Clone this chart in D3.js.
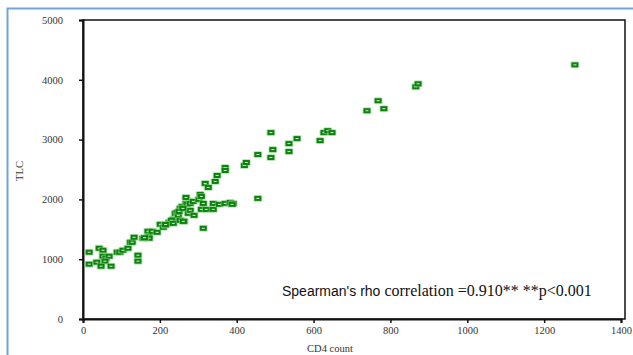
<!DOCTYPE html>
<html>
<head>
<meta charset="utf-8">
<script src="https://cdn.jsdelivr.net/npm/d3@7/dist/d3.min.js"></script>
<style>
  html, body { margin: 0; padding: 0; background: #fff; }
  svg { display: block; }
</style>
</head>
<body>
<div id="chart"></div>
<script>
// ── Data (CD4 count vs TLC) ───────────────────────────────────────────
const cd4 = [
  16, 16, 42, 52, 52, 60, 68, 57, 36, 47, 73, 89, 96, 104, 117, 123, 128, 133,
  143, 143, 156, 169, 172, 172, 180, 193, 201, 209, 214, 224, 235, 240, 245, 248,
  253, 258, 263, 268, 268, 271, 274, 279, 279, 287, 289, 302, 305, 308, 313, 313,
  308, 321, 339, 339, 355, 370, 383, 391, 388, 455, 224, 230, 250, 260, 215, 235,
  253, 261, 160,
  318, 326, 344, 349, 370, 370, 420, 425, 455, 489, 489, 494, 536, 536, 557, 617,
  627, 637, 648, 739, 768, 783, 866, 872, 1280
];
const tlc = [
  1117, 917, 1183, 1150, 1050, 1017, 1050, 967, 950, 883, 883, 1117, 1117, 1150, 1183, 1283, 1283, 1367,
  1067, 967, 1350, 1467, 1383, 1350, 1467, 1450, 1583, 1533, 1567, 1617, 1667, 1767, 1783, 1733,
  1850, 1883, 1633, 2033, 1933, 1917, 1767, 1817, 1933, 1967, 1733, 2000, 2083, 2050, 1517, 1933,
  1833, 1833, 1833, 1933, 1917, 1933, 1950, 1933, 1917, 2017, 1600, 1650, 1800, 1850, 1580, 1600,
  1650, 1633, 1360,
  2267, 2200, 2300, 2400, 2533, 2483, 2567, 2617, 2750, 3117, 2700, 2833, 2933, 2800, 3017, 2983,
  3117, 3150, 3117, 3483, 3650, 3517, 3883, 3933, 4250
];

const xTicks = [0, 200, 400, 600, 800, 1000, 1200, 1400];
const yTicks = [0, 1000, 2000, 3000, 4000, 5000];

const xTitle = 'CD4 count';
const yTitle = 'TLC';
const noteSans = "Spearman's rho";
const noteSerif = ' correlation =0.910** **p<0.001';

// ── Layout ────────────────────────────────────────────────────────────
const W = 633, H = 355;
const PLOT = { left: 83, right: 621, top: 20, bottom: 319 };

const svg = d3.select('#chart').append('svg')
  .attr('width', W).attr('height', H);

// Outer blue frame (only top + left visible in the crop)
svg.append('path')
  .attr('d', `M7.5,${H} L7.5,8.5 L${W},8.5`)
  .attr('fill', 'none')
  .attr('stroke', '#6fa5da')
  .attr('stroke-width', 2);

const x = d3.scaleLinear().domain([0, 1400]).range([PLOT.left, PLOT.right]);
const y = d3.scaleLinear().domain([0, 5000]).range([PLOT.bottom, PLOT.top]);

// Plot box
svg.append('rect')
  .attr('x', PLOT.left).attr('y', PLOT.top)
  .attr('width', PLOT.right - PLOT.left + 4)
  .attr('height', PLOT.bottom - PLOT.top)
  .attr('fill', 'none')
  .attr('stroke', '#111')
  .attr('stroke-width', 1.5);

// Axes
const xAxis = svg.append('g')
  .attr('transform', `translate(0,${PLOT.bottom})`)
  .call(d3.axisBottom(x).tickValues(xTicks).tickSize(4).tickPadding(4).tickFormat(d3.format('d')));

const yAxis = svg.append('g')
  .attr('transform', `translate(${PLOT.left},0)`)
  .call(d3.axisLeft(y).tickValues(yTicks).tickSize(4).tickPadding(16).tickFormat(d3.format('d')));

[xAxis, yAxis].forEach(a => {
  a.select('.domain').attr('stroke', '#111').attr('stroke-width', 2);
  a.selectAll('.tick line').attr('stroke', '#111').attr('stroke-width', 1.5);
  a.selectAll('text')
    .attr('font-family', '"Liberation Serif", "Times New Roman", serif')
    .attr('font-size', '10.5px')
    .attr('fill', '#333');
});

// Axis titles
svg.append('text')
  .attr('x', (PLOT.left + PLOT.right) / 2 - 22)
  .attr('y', 352)
  .attr('text-anchor', 'middle')
  .attr('font-family', '"Liberation Serif", "Times New Roman", serif')
  .attr('font-size', '10.5px')
  .attr('fill', '#333')
  .text(xTitle);

svg.append('text')
  .attr('transform', `translate(23,171) rotate(-90)`)
  .attr('text-anchor', 'middle')
  .attr('font-family', '"Liberation Serif", "Times New Roman", serif')
  .attr('font-size', '10.5px')
  .attr('fill', '#333')
  .text(yTitle);

// Markers
const pts = cd4.map((v, i) => ({ cd4: v, tlc: tlc[i] }));
const mk = svg.append('g').selectAll('g')
  .data(pts)
  .join('g')
  .attr('transform', d => `translate(${x(d.cd4)},${y(d.tlc)})`);

mk.append('rect')
  .attr('x', -4.5).attr('y', -3.5).attr('width', 9).attr('height', 7)
  .attr('rx', 1.5)
  .attr('fill', '#8fce8f').attr('opacity', 0.55);
mk.append('rect')
  .attr('x', -3.5).attr('y', -2.5).attr('width', 7).attr('height', 5)
  .attr('fill', '#0b830b');
mk.append('rect')
  .attr('x', -1.5).attr('y', -0.5).attr('width', 3).attr('height', 1)
  .attr('fill', '#d6eed6');

// Annotation
const note = svg.append('text')
  .attr('x', 282).attr('y', 296)
  .attr('fill', '#111')
  .attr('font-size', '14px');
note.append('tspan')
  .attr('font-family', '"Liberation Sans", Arial, sans-serif')
  .text(noteSans);
note.append('tspan')
  .attr('font-family', '"Liberation Serif", "Times New Roman", serif')
  .attr('font-size', '16px')
  .text(noteSerif);
</script>
</body>
</html>
